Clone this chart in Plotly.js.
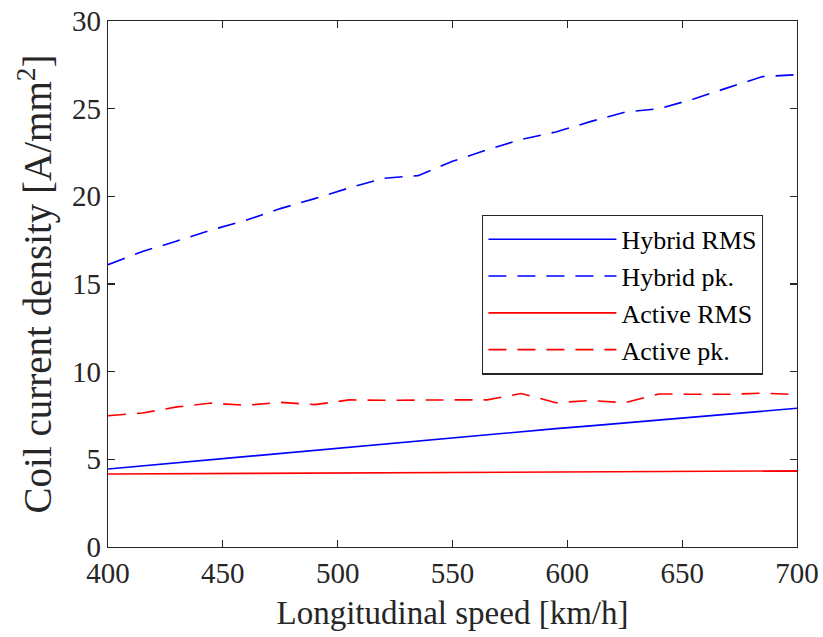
<!DOCTYPE html>
<html>
<head>
<meta charset="utf-8">
<script src="https://cdn.plot.ly/plotly-3.0.1.min.js"></script>
<style>html,body{margin:0;padding:0;background:#fff;}#chart{width:823px;height:637px;}</style>
</head>
<body>
<div id="chart"></div>
<script>
const speed = [400,415,430,445,460,475,490,505,520,535,550,565,580,595,610,625,640,655,670,685,700];
const hybridRms = [4.45,4.63,4.81,4.99,5.17,5.35,5.53,5.71,5.89,6.07,6.25,6.42,6.58,6.75,6.91,7.08,7.25,7.41,7.58,7.75,7.91];
const hybridPk = [16.1,16.85,17.45,18.08,18.63,19.30,19.87,20.48,21.03,21.18,22.0,22.65,23.25,23.67,24.26,24.80,25.0,25.55,26.2,26.83,26.94];
const activeRms = [4.16,4.17,4.18,4.19,4.21,4.22,4.23,4.24,4.25,4.27,4.28,4.29,4.29,4.30,4.31,4.31,4.32,4.32,4.33,4.33,4.34];
const activePk = [7.49,7.64,7.99,8.21,8.08,8.25,8.12,8.39,8.37,8.40,8.39,8.39,8.75,8.23,8.35,8.23,8.73,8.71,8.71,8.77,8.69];
const seriesNames = ["Hybrid RMS","Hybrid pk.","Active RMS","Active pk."];
const xTicks = [400,450,500,550,600,650,700];
const yTicks = [0,5,10,15,20,25,30];

const font = "'Liberation Serif', 'Times New Roman', serif";
const dash = "18px,11px";
const traces = [
  {x: speed, y: hybridRms, name: seriesNames[0], mode: "lines", line: {color: "#0000ff", width: 1.6}},
  {x: speed, y: hybridPk, name: seriesNames[1], mode: "lines", line: {color: "#0000ff", width: 1.6, dash: dash}},
  {x: speed, y: activeRms, name: seriesNames[2], mode: "lines", line: {color: "#ff0000", width: 1.6}},
  {x: speed, y: activePk, name: seriesNames[3], mode: "lines", line: {color: "#ff0000", width: 1.6, dash: dash}}
];
const axisCommon = {
  showgrid: false, zeroline: false, showline: true, linecolor: "#262626", linewidth: 1.3,
  mirror: "ticks", ticks: "inside", ticklen: 7, tickwidth: 1.3, tickcolor: "#262626",
  tickfont: {family: font, size: 29, color: "#262626"}
};
const layout = {
  width: 823, height: 637,
  margin: {l: 108, r: 26, t: 21, b: 90},
  paper_bgcolor: "#fff", plot_bgcolor: "#fff",
  font: {family: font, color: "#262626"},
  xaxis: Object.assign({}, axisCommon, {
    range: [400, 700], tickvals: xTicks, ticktext: xTicks.map(String),
    title: {text: "Longitudinal speed [km/h]", font: {family: font, size: 33, color: "#262626"}, standoff: 12}
  }),
  yaxis: Object.assign({}, axisCommon, {
    range: [0, 30], tickvals: yTicks, ticktext: yTicks.map(String),
    title: {text: "Coil current density [A/mm<sup>2</sup>]", font: {family: font, size: 39, color: "#262626"}, standoff: 8}
  }),
  showlegend: true,
  legend: {
    x: 0.543, y: 0.632, xanchor: "left", yanchor: "top",
    bgcolor: "#fff", bordercolor: "#262626", borderwidth: 1.3,
    font: {family: font, size: 26, color: "#000"},
    itemwidth: 128, tracegroupgap: 0
  }
};
Plotly.newPlot("chart", traces, layout, {displayModeBar: false, staticPlot: true});
</script>
</body>
</html>
